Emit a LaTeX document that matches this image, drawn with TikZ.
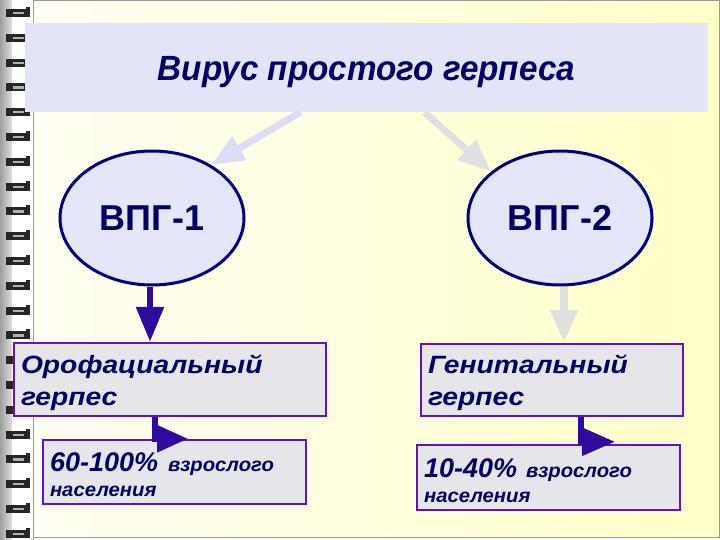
\documentclass[tikz,border=0pt]{standalone}
\usepackage{fontspec}
\setmainfont{Liberation Sans}
\usetikzlibrary{arrows.meta,shapes.geometric,calc}
\definecolor{navytext}{HTML}{000066}
\definecolor{ellborder}{HTML}{000080}
\definecolor{ellfill}{HTML}{E6E6FA}
\definecolor{boxborder}{HTML}{6610CC}
\definecolor{boxfill}{HTML}{E6E6EA}
\definecolor{titlefill}{HTML}{E4E4F8}
\definecolor{darkarr}{HTML}{2E0A9E}
\definecolor{lightlav}{HTML}{DCDCF4}
\definecolor{lightgray}{HTML}{E0E0E0}
\definecolor{paperleft}{HTML}{FFFEF2}
\definecolor{paperright}{HTML}{FFFFC8}
\newcommand{\wide}[1]{\scalebox{1.13}[1]{#1}}
\newcommand{\smallwide}[1]{\scalebox{1.04}[1]{#1}}
\newcommand{\bigstrut}{\rule{0pt}{25pt}}
\newcommand{\numtext}[1]{{\fontsize{27}{25}\selectfont #1}}
\begin{document}
\begin{tikzpicture}[x=1pt,y=-1pt,
  ell/.style={ellipse, draw=ellborder, line width=3pt, fill=ellfill,
    minimum width=184pt, minimum height=134pt, text=navytext,
    font=\fontsize{36}{40}\selectfont\bfseries},
  boxnode/.style={rectangle, draw=boxborder, line width=2.5pt, fill=boxfill,
    text=navytext, align=left, inner xsep=6pt,
    font=\fontsize{25}{32}\selectfont\bfseries\itshape},
  smallbox/.style={boxnode, font=\fontsize{19.5}{25}\selectfont\bfseries\itshape},
  darkarrow/.style={draw=darkarr, line width=6pt,
    -{Triangle[length=35pt,width=27pt]}},
  lightarrow/.style={line width=7pt, -{Triangle[length=33pt,width=26pt]}},
  ring/.style={fill=black!85}
]
\useasboundingbox (0,0) rectangle (720,540);
\fill[white] (0,0) rectangle (720,540);
% spine
\shade[left color=gray!75, right color=gray!25] (0,0) rectangle (12,540);
% paper
\shade[left color=paperleft, right color=paperright] (33,1) rectangle (719,537);
\draw[gray!80, line width=1pt] (33,540) -- (33,1) -- (719,1) -- (719,537) -- (33,537);
% spiral rings
\foreach \i in {0,...,21} {
  \pgfmathsetmacro{\yy}{13+24.8*\i}
  \fill[ring] (6,\yy-4) rectangle (30,\yy+4);
  \fill[gray!60] (13,\yy-1) rectangle (24,\yy+1.2);
  \fill[ring] (26,\yy-6) rectangle (30,\yy-3);
}
% title
\node[fill=titlefill, minimum width=683pt, minimum height=89pt, inner sep=0pt]
  (t) at (366.5,67.5) {};
\node[text=navytext, font=\fontsize{35}{40}\selectfont\bfseries\itshape]
  (tt) at ([yshift=-5pt]t.center) {\scalebox{0.95}[1]{Вирус простого герпеса}};
% ellipses
\node[ell] (v1) at (152,218) {ВПГ-1};
\node[ell] (v2) at (560,218) {ВПГ-2};
% boxes
\node[boxnode, minimum width=312pt, minimum height=73pt, text width=298pt]
  (b1) at (170,379.5) {\bigstrut\wide{Орофациальный}\\\wide{герпес}};
\node[boxnode, minimum width=262pt, minimum height=72pt, text width=248pt]
  (b2) at (552,380) {\bigstrut\wide{Генитальный}\\\wide{герпес}};
\node[smallbox, minimum width=263pt, minimum height=64pt, text width=249pt]
  (c1) at (174.5,472) {\bigstrut\numtext{60-100\%}\hspace{10pt}\smallwide{взрослого}\\\smallwide{населения}};
\node[smallbox, minimum width=263pt, minimum height=65pt, text width=249pt]
  (c2) at (548.5,477.5) {\bigstrut\numtext{10-40\%}\hspace{9pt}\smallwide{взрослого}\\\smallwide{населения}};
% arrows from title
\draw[lightarrow, draw=lightlav] ([xshift=-66pt]t.south) -- (v1.42);
\draw[lightarrow, draw=lightgray] ([xshift=58pt]t.south) -- (v2.146);
% down arrows
\draw[darkarrow] ([xshift=-2pt]v1.south) -- ([xshift=-2pt]v1.south |- b1.north);
\draw[lightarrow, draw=lightgray, line width=8pt] ([xshift=4pt]v2.south) -- ([xshift=4pt]v2.south |- b2.north);
% elbow arrows
\coordinate (e1) at ([xshift=-15pt]b1.south);
\coordinate (f1) at ([xshift=13.5pt]c1.north);
\draw[darkarrow, -{Triangle[length=31pt,width=26pt]}] (e1) |- (f1);
\coordinate (e2) at ([xshift=29pt]b2.south);
\coordinate (f2) at ([xshift=66.5pt,yshift=2pt]c2.north);
\draw[darkarrow, -{Triangle[length=33pt,width=27pt]}] (e2) |- (f2);
\end{tikzpicture}
\end{document}
